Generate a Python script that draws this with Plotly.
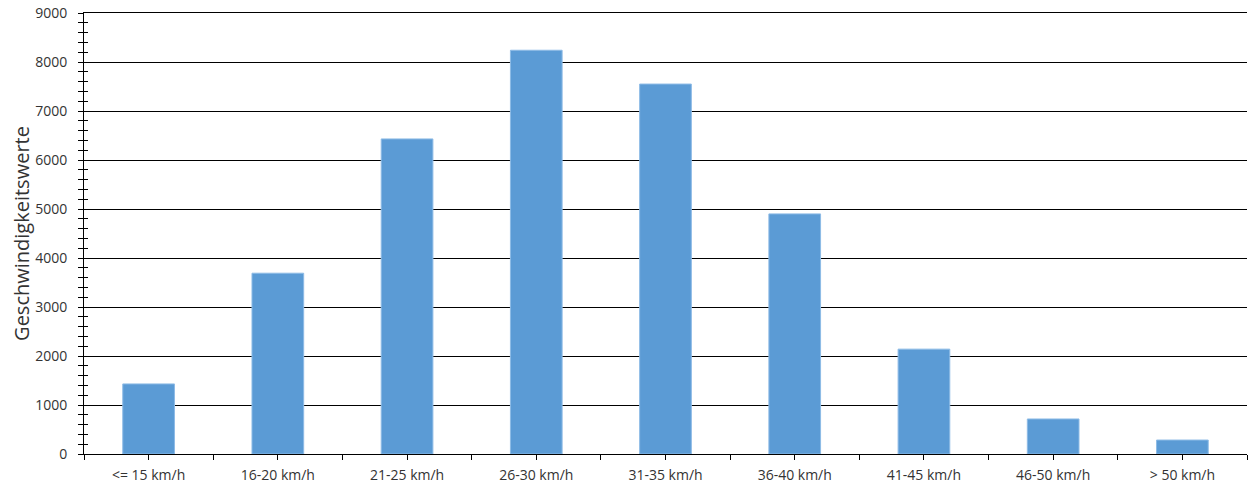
import plotly.graph_objects as go

categories = ["<= 15 km/h", "16-20 km/h", "21-25 km/h", "26-30 km/h", "31-35 km/h",
              "36-40 km/h", "41-45 km/h", "46-50 km/h", "> 50 km/h"]
values = [1430, 3690, 6430, 8240, 7550, 4900, 2140, 715, 285]
y_title = "Geschwindigkeitswerte"

xpos = list(range(len(categories)))
bounds = [i - 0.5 for i in range(len(categories) + 1)]

fig = go.Figure()
fig.add_trace(go.Bar(
    x=xpos, y=values, width=0.4,
    marker=dict(color="#5B9BD5", line=dict(color="#8DBBE6", width=1)),
    hoverinfo="y",
))
fig.add_trace(go.Scatter(x=[0], y=[0], yaxis="y2", mode="markers",
                         marker=dict(opacity=0), showlegend=False, hoverinfo="skip"))

font_family = "Open Sans, DejaVu Sans, sans-serif"

fig.update_layout(
    width=1250, height=488,
    margin=dict(l=84, r=3, t=13, b=34),
    paper_bgcolor="white", plot_bgcolor="white",
    showlegend=False,
    font=dict(family=font_family, color="#333333", size=13),
    xaxis=dict(
        range=[-0.5, 8.5], automargin=False,
        tickmode="array", tickvals=xpos, ticktext=categories,
        ticks="outside", ticklen=5, tickwidth=1, tickcolor="black",
        ticklabelstandoff=3,
        minor=dict(tickmode="array", tickvals=bounds, ticks="outside",
                   ticklen=5, tickwidth=1, tickcolor="black"),
        showline=True, linecolor="black", linewidth=1, mirror=True,
        showgrid=False, zeroline=False,
        tickfont=dict(size=14, color="#333333"),
        fixedrange=True,
    ),
    yaxis=dict(
        range=[0, 9000], dtick=1000, tick0=0, automargin=False,
        ticks="outside", ticklen=5, tickwidth=1, tickcolor="black",
        ticklabelstandoff=8,
        minor=dict(dtick=200, ticks="outside", ticklen=5, tickwidth=1,
                   tickcolor="black", showgrid=False),
        showline=True, linecolor="black", linewidth=1,
        showgrid=True, gridcolor="black", gridwidth=1,
        zeroline=False,
        tickfont=dict(size=14, color="#333333"),
        title=dict(text=y_title, font=dict(size=20, color="#333333"), standoff=0),
        fixedrange=True,
    ),
    yaxis2=dict(
        overlaying="y", anchor="x", side="left",
        range=[0, 9000], dtick=1000, tick0=0,
        ticks="inside", ticklen=4, tickwidth=1, tickcolor="black",
        minor=dict(dtick=200, ticks="inside", ticklen=4, tickwidth=1,
                   tickcolor="black", showgrid=False),
        showticklabels=False, showgrid=False, showline=False, zeroline=False,
        fixedrange=True,
    ),
)

fig.write_html("out.html", config={"displayModeBar": False},
               post_script="document.body.style.margin='0';")
